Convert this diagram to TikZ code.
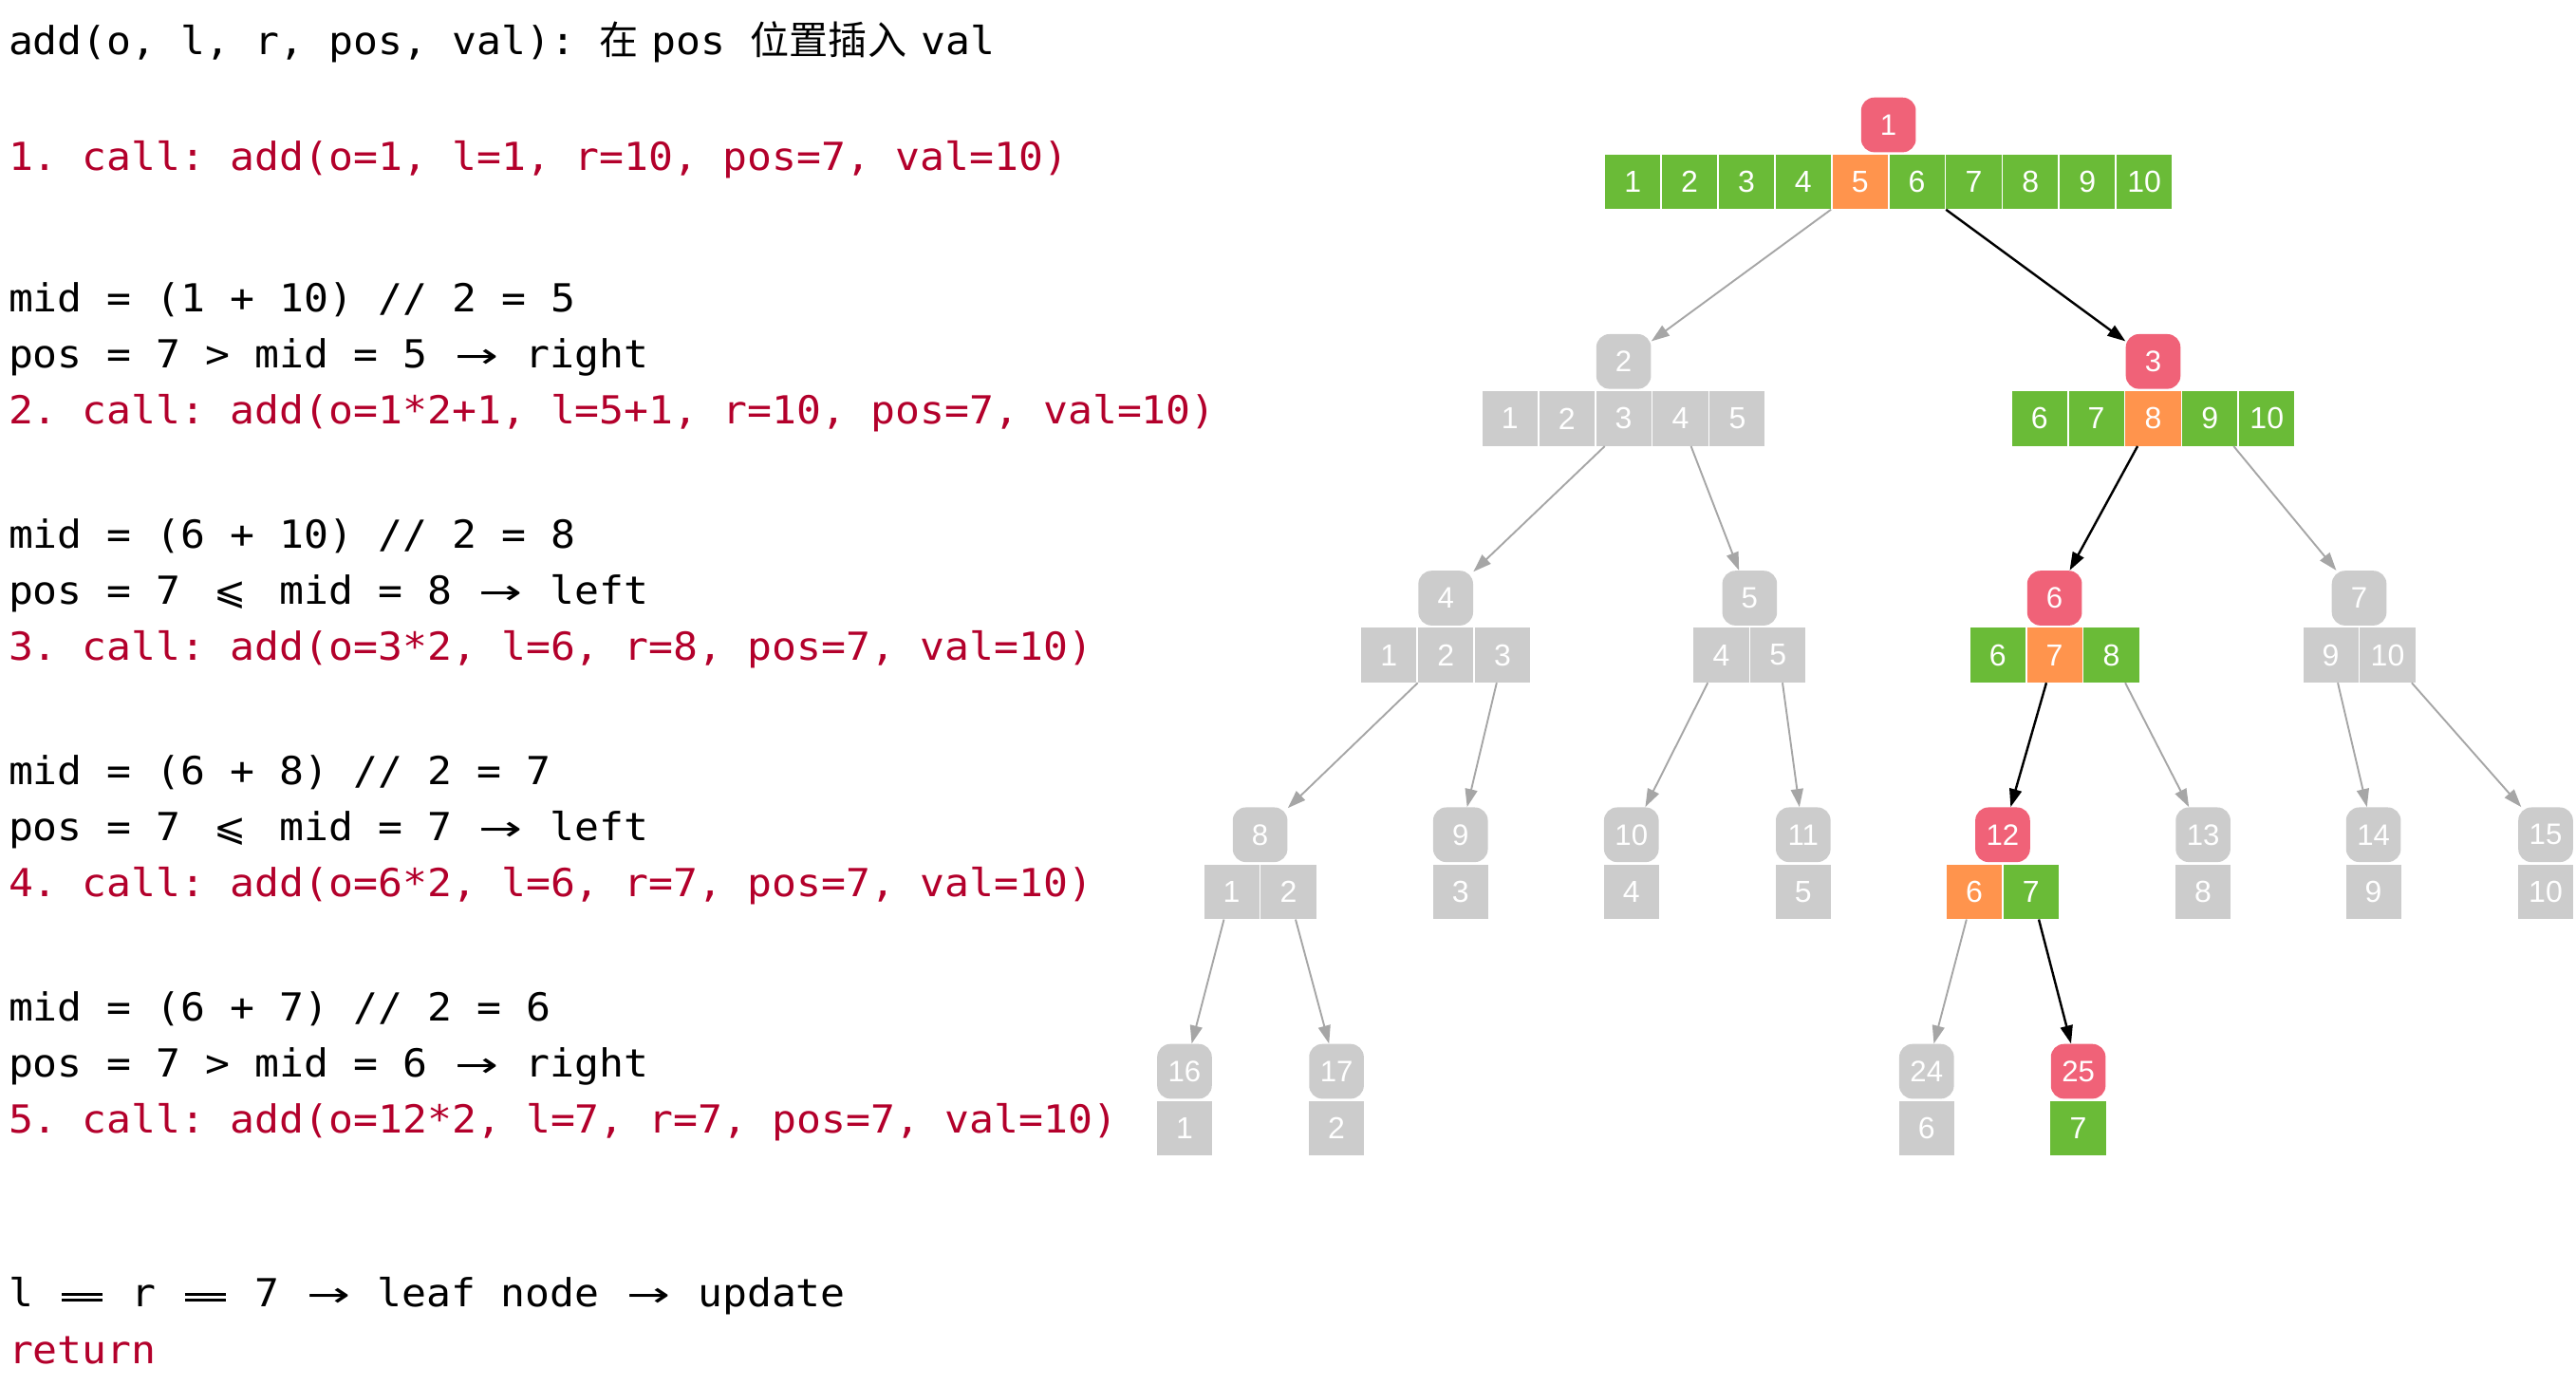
\documentclass[tikz,border=0pt]{standalone}
\usepackage{fontspec}
\usepackage{graphicx}
\usetikzlibrary{arrows.meta}
\setmainfont{Liberation Sans}
\newfontfamily\codefont[FakeStretch=1.06]{DejaVu Sans Mono}
\newfontfamily\zhfont{Noto Sans CJK SC}
\newfontfamily\symfont{DejaVu Sans}
\frenchspacing

\definecolor{codered}{RGB}{179,0,43}
\definecolor{cgreen}{RGB}{106,187,55}
\definecolor{corange}{RGB}{255,148,77}
\definecolor{cpink}{RGB}{240,98,120}
\definecolor{cgray}{RGB}{204,204,204}
\definecolor{cedge}{RGB}{166,166,166}

% wide glyphs occupy two character cells of the code font
\newcommand\zh[1]{{\zhfont\fontsize{23.75}{28}\selectfont #1}}
\newcommand\toarrow{\makebox[29.9pt][c]{\scalebox{1.35}[0.9]{\symfont →}}}
\newcommand\leqs{\makebox[29.9pt][c]{\symfont ⩽}}
\newcommand\eqlig{\makebox[29.9pt][c]{\rlap{\rule[3.4pt]{25pt}{1.6pt}}\rule[7pt]{25pt}{1.6pt}}}

\tikzset{
  code/.style={anchor=base west, inner sep=0pt, font=\codefont\fontsize{23.5}{28}\selectfont},
  lab/.style={rectangle, rounded corners=8pt, fill=#1, text=white,
    minimum width=33.3pt, minimum height=33.3pt, inner sep=0pt,
    font=\fontsize{18}{18}\selectfont},
  cell/.style={rectangle, fill=#1, text=white,
    minimum width=33.6pt, minimum height=33.3pt, inner sep=0pt,
    font=\fontsize{18.5}{18.5}\selectfont},
  arr/.style={rectangle, minimum height=33.3pt, inner sep=0pt},
  gedge/.style={draw=cedge, line width=1.1pt, -{Triangle[length=11pt,width=7.5pt]}},
  bedge/.style={draw=black, line width=1.4pt, -{Triangle[length=11pt,width=7.5pt]}},
}

% #1 id, #2 x, #3 y of label, #4 label colour, #5 number of cells, #6 value/colour list
\newcommand\treenode[6]{%
  \node[lab=#4] (n#1) at (#2,#3) {#1};
  \node[arr, minimum width={#5*34.6pt-1pt}] (a#1) at (#2,#3+34.7) {};
  \foreach \vv/\cc [count=\ii] in {#6}
    \node[cell=\cc] (a#1-\ii) at ({#2+(\ii-(#5+1)/2)*34.6},{#3+34.7}) {\vv};
}

\begin{document}
\begin{tikzpicture}[x=1pt, y=-1pt]
\useasboundingbox (0,0) rectangle (1568,843.5);

% ---- call trace ----
\node[code] (h)  at (5,33)    {add(o, l, r, pos, val): \zh{在}\hspace{8pt}pos \zh{位置插入}\hspace{9pt}val};
\node[code, text=codered] (c1) at (5,103.5) {1. call: add(o=1, l=1, r=10, pos=7, val=10)};

\node[code] (m1) at (5,189.5) {mid = (1 + 10) // 2 = 5};
\node[code] (p1) at (5,223.7) {pos = 7 > mid = 5 \toarrow{} right};
\node[code, text=codered] (c2) at (5,257.8) {2. call: add(o=1*2+1, l=5+1, r=10, pos=7, val=10)};

\node[code] (m2) at (5,333.5) {mid = (6 + 10) // 2 = 8};
\node[code] (p2) at (5,367.7) {pos = 7 \leqs{} mid = 8 \toarrow{} left};
\node[code, text=codered] (c3) at (5,401.8) {3. call: add(o=3*2, l=6, r=8, pos=7, val=10)};

\node[code] (m3) at (5,477.5) {mid = (6 + 8) // 2 = 7};
\node[code] (p3) at (5,511.7) {pos = 7 \leqs{} mid = 7 \toarrow{} left};
\node[code, text=codered] (c4) at (5,545.8) {4. call: add(o=6*2, l=6, r=7, pos=7, val=10)};

\node[code] (m4) at (5,621.5) {mid = (6 + 7) // 2 = 6};
\node[code] (p4) at (5,655.7) {pos = 7 > mid = 6 \toarrow{} right};
\node[code, text=codered] (c5) at (5,689.8) {5. call: add(o=12*2, l=7, r=7, pos=7, val=10)};

\node[code] (lf) at (5,795.5) {l \eqlig{} r \eqlig{} 7 \toarrow{} leaf node \toarrow{} update};
\node[code, text=codered] (rt) at (5,830) {return};

% ---- segment tree ----
\treenode{1}{1149.5}{76}{cpink}{10}{1/cgreen,2/cgreen,3/cgreen,4/cgreen,5/corange,6/cgreen,7/cgreen,8/cgreen,9/cgreen,10/cgreen}
\treenode{2}{988.3}{220}{cgray}{5}{1/cgray,2/cgray,3/cgray,4/cgray,5/cgray}
\treenode{3}{1310.6}{220}{cpink}{5}{6/cgreen,7/cgreen,8/corange,9/cgreen,10/cgreen}
\treenode{4}{880}{364}{cgray}{3}{1/cgray,2/cgray,3/cgray}
\treenode{5}{1065}{364}{cgray}{2}{4/cgray,5/cgray}
\treenode{6}{1250.6}{364}{cpink}{3}{6/cgreen,7/corange,8/cgreen}
\treenode{7}{1436}{364}{cgray}{2}{9/cgray,10/cgray}
\treenode{8}{767}{508}{cgray}{2}{1/cgray,2/cgray}
\treenode{9}{889}{508}{cgray}{1}{3/cgray}
\treenode{10}{993}{508}{cgray}{1}{4/cgray}
\treenode{11}{1097.6}{508}{cgray}{1}{5/cgray}
\treenode{12}{1219}{508}{cpink}{2}{6/corange,7/cgreen}
\treenode{13}{1341}{508}{cgray}{1}{8/cgray}
\treenode{14}{1444.7}{508}{cgray}{1}{9/cgray}
\treenode{15}{1549.5}{508}{cgray}{1}{10/cgray}
\treenode{16}{721}{652}{cgray}{1}{1/cgray}
\treenode{17}{813.5}{652}{cgray}{1}{2/cgray}
\treenode{24}{1172.7}{652}{cgray}{1}{6/cgray}
\treenode{25}{1265}{652}{cpink}{1}{7/cgreen}

% ---- edges ----
\draw[gedge] ([xshift=-35pt]a1.south) -- (n2);
\draw[bedge] ([xshift=35pt]a1.south) -- (n3);
\draw[gedge] ([xshift=-11.5pt]a2.south) -- (n4);
\draw[gedge] ([xshift=41pt]a2.south) -- (n5);
\draw[bedge] ([xshift=-9.5pt]a3.south) -- (n6);
\draw[gedge] ([xshift=49pt]a3.south) -- (n7);
\draw[gedge] ([xshift=-17pt]a4.south) -- (n8);
\draw[gedge] ([xshift=31pt]a4.south) -- (n9);
\draw[gedge] ([xshift=-25.5pt]a5.south) -- (n10);
\draw[gedge] ([xshift=20pt]a5.south) -- (n11);
\draw[bedge] ([xshift=-5pt]a6.south) -- (n12);
\draw[gedge] ([xshift=43pt]a6.south) -- (n13);
\draw[gedge] ([xshift=-13pt]a7.south) -- (n14);
\draw[gedge] ([xshift=32pt]a7.south) -- (n15);
\draw[gedge] ([xshift=-22pt]a8.south) -- (n16);
\draw[gedge] ([xshift=21.6pt]a8.south) -- (n17);
\draw[gedge] ([xshift=-22pt]a12.south) -- (n24);
\draw[bedge] ([xshift=22pt]a12.south) -- (n25);
\end{tikzpicture}
\end{document}
